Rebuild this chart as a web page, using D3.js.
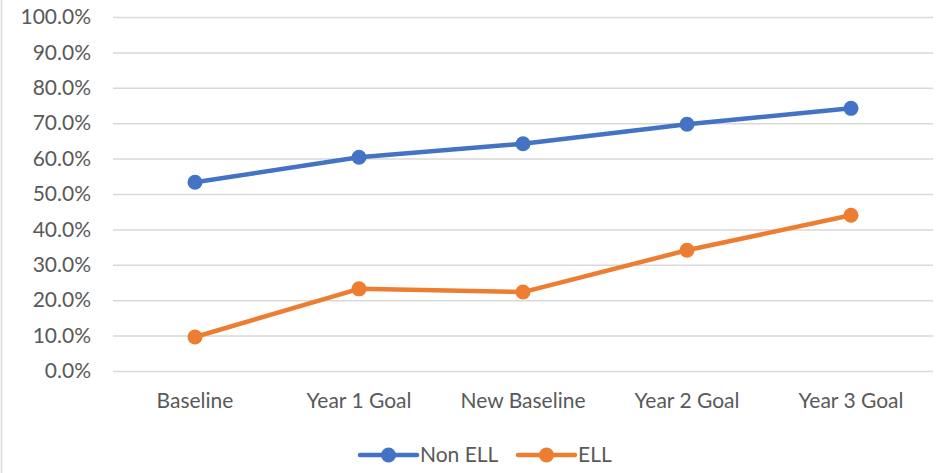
<!DOCTYPE html>
<html>
<head>
<meta charset="utf-8">
<script src="https://cdn.jsdelivr.net/npm/d3@7"></script>
<style>
  body { margin: 0; background: #fff; }
  text { font-family: Lato, "Open Sans", sans-serif; fill: #595959; }
</style>
</head>
<body>
<div id="chart"></div>
<script>
// Data
const categories = ["Baseline", "Year 1 Goal", "New Baseline", "Year 2 Goal", "Year 3 Goal"];
const nonEll = [0.533, 0.604, 0.642, 0.697, 0.742];
const ell = [0.096, 0.232, 0.223, 0.341, 0.440];
const yTicks = [0, 0.1, 0.2, 0.3, 0.4, 0.5, 0.6, 0.7, 0.8, 0.9, 1.0];
const seriesNames = ["Non ELL", "ELL"];
const colors = ["#4472C4", "#ED7D31"];

// Size
const width = 940,
    height = 473,
    margin = { top: 17, left: 113, bottom: 102, right: 7 },
    innerWidth = width - margin.left - margin.right,
    innerHeight = height - margin.top - margin.bottom,
    fontSize = "21px";

const svg = d3.select("#chart").append("svg")
    .attr("width", width)
    .attr("height", height);

// Chart frame (only the left edge is visible in the picture)
svg.append("line")
    .attr("x1", 1.5).attr("x2", 1.5)
    .attr("y1", 0).attr("y2", height)
    .style("stroke", "#d9d9d9")
    .style("stroke-width", 1.5);

const g = svg.append("g")
    .attr("transform", "translate(" + margin.left + "," + margin.top + ")");

// Scales
const xScale = d3.scaleBand()
    .domain(categories)
    .range([0, innerWidth]);

const yScale = d3.scaleLinear()
    .domain([0, 1])
    .range([innerHeight, 0]);

// Grid lines + y labels
const yAxis = d3.axisLeft(yScale)
    .tickValues(yTicks)
    .tickSize(-innerWidth)
    .tickPadding(22)
    .tickFormat(d3.format(".1%"));

g.append("g")
    .attr("class", "yAxis")
    .call(yAxis)
    .call(s => s.select(".domain").remove())
    .call(s => s.selectAll("line")
        .style("stroke", "#d9d9d9")
        .style("stroke-width", 1.5))
    .call(s => s.selectAll("text")
        .style("font-size", fontSize)
        .style("fill", "#595959"));

// x labels
const xAxis = d3.axisBottom(xScale)
    .tickSize(0)
    .tickPadding(22);

g.append("g")
    .attr("class", "xAxis")
    .attr("transform", "translate(0," + innerHeight + ")")
    .call(xAxis)
    .call(s => s.select(".domain").remove())
    .call(s => s.selectAll("text")
        .style("font-size", fontSize)
        .style("fill", "#595959"));

// Lines
const series = [nonEll, ell];
const lineShape = d3.line()
    .x((d, i) => xScale(categories[i]) + xScale.bandwidth() / 2)
    .y(d => yScale(d));

const seriesG = g.selectAll(".series")
    .data(series)
  .enter().append("g")
    .attr("class", "series");

seriesG.append("path")
    .attr("d", lineShape)
    .style("fill", "none")
    .style("stroke", (d, i) => colors[i])
    .style("stroke-width", 4.5)
    .style("stroke-linejoin", "round");

seriesG.each(function(d, i) {
  d3.select(this).selectAll("circle")
      .data(d)
    .enter().append("circle")
      .attr("cx", (v, j) => xScale(categories[j]) + xScale.bandwidth() / 2)
      .attr("cy", v => yScale(v))
      .attr("r", 7.5)
      .style("fill", colors[i]);
});

// Legend
const legendX = [360, 518];
const legend = svg.selectAll(".legend")
    .data(seriesNames)
  .enter().append("g")
    .attr("class", "legend")
    .attr("transform", (d, i) => "translate(" + legendX[i] + ",455)");

legend.append("line")
    .attr("x1", 0).attr("x2", 57)
    .style("stroke", (d, i) => colors[i])
    .style("stroke-width", 4.5)
    .style("stroke-linecap", "round");

legend.append("circle")
    .attr("cx", 28.5)
    .attr("r", 7.5)
    .style("fill", (d, i) => colors[i]);

legend.append("text")
    .attr("x", 60)
    .attr("dy", "0.35em")
    .style("font-size", fontSize)
    .text(d => d);
</script>
</body>
</html>
